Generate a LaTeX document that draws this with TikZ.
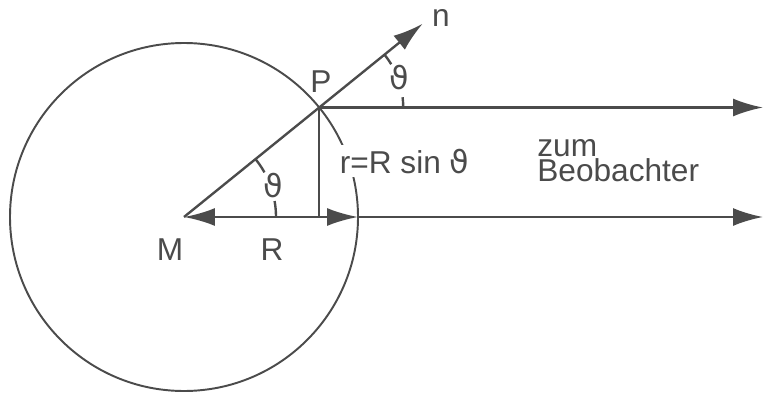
\documentclass[tikz,border=0pt]{standalone}
\usepackage{fontspec}
\setmainfont{Liberation Sans}
\newfontfamily\greekfont{DejaVu Sans}
\usetikzlibrary{arrows.meta, positioning, calc}
\definecolor{inkGray}{RGB}{75,75,75}
\newcommand{\thet}{{\greekfont ϑ}}

\begin{document}
\begin{tikzpicture}[
  x=0.02cm, y=0.02cm,
  line/.style={line width=1.35pt, inkGray},
  arr/.style={line, -{Latex[length=0.6cm, width=0.36cm]}},
  twoarr/.style={line, {Latex[length=0.62cm, width=0.36cm]}-{Latex[length=0.62cm, width=0.36cm]}},
  anglemark/.style={line width=1.35pt, inkGray},
  lbl/.style={font=\fontsize{18}{15}\selectfont, text=inkGray, inner sep=0pt}
]
  \useasboundingbox (0,0) rectangle (765,400);

  % sphere and its points
  \coordinate (M) at (184,183);
  \coordinate (P) at ($(M)+(39:174)$);
  \coordinate (N) at ($(M)+(39:307)$);
  \coordinate (E) at ($(M)+(174,0)$);
  \coordinate (F) at (P |- M);
  \coordinate (xend) at (763,0);

  \draw[line, line width=1.1pt] (M) circle[radius=174];

  \draw[arr] (M) -- (N);
  \draw[line] (P) -- (F);
  \draw[twoarr] (M) -- (E);
  \foreach \a in {P, E}
    \draw[arr] (\a) -- (\a -| xend);

  % angle marks
  \draw[anglemark] ($(M)+(0:92)$) arc[start angle=0, end angle=10, radius=92];
  \draw[anglemark] ($(M)+(29:92)$) arc[start angle=29, end angle=39, radius=92];
  \draw[anglemark] ($(P)+(0:84)$) arc[start angle=0, end angle=7, radius=84];
  \draw[anglemark] ($(P)+(31:84)$) arc[start angle=31, end angle=39, radius=84];

  \node[lbl] (thM) at ($(M)+(19.5:95)$) {\thet};
  \node[lbl] (thP) at ($(P)+(20.6:86)$) {\thet};

  % labels
  \node[lbl] (nLbl) at (441,382) {n};
  \node[lbl] (PLbl) at (321,318) {P};
  \node[lbl] (MLbl) at (170,150.5) {M};
  \node[lbl] (RLbl) at (272,150.5) {R};
  \node[lbl, anchor=base west, fill=white, inner sep=2pt]
    (rLbl) at (336,227) {r=R sin \thet};
  \node[lbl, align=left, anchor=south west]
    (obs) at (537,218) {zum\\[-1pt]Beobachter};
\end{tikzpicture}
\end{document}
